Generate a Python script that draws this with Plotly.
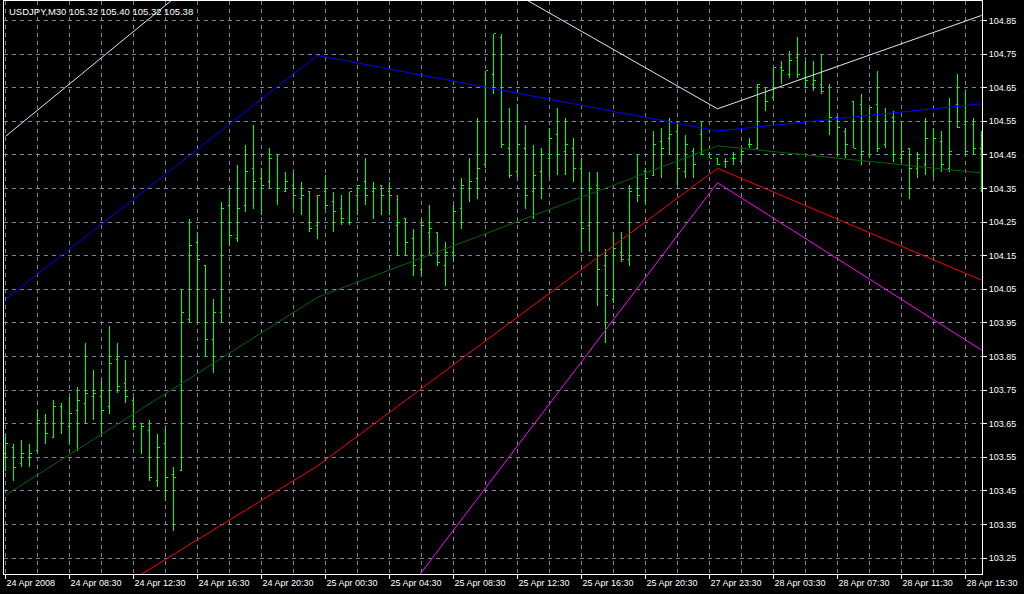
import plotly.graph_objects as go

# ---------------- data ----------------
opens = [103.56, 103.58, 103.53, 103.55, 103.57, 103.65, 103.61, 103.70, 103.64, 103.69,
         103.71, 103.73, 103.73, 103.70, 103.84, 103.77, 103.72, 103.65, 103.63, 103.48,
         103.59, 103.50, 103.51, 103.96, 104.19, 104.12, 103.90, 103.98, 104.30, 104.20,
         104.30, 104.41, 104.38, 104.37, 104.45, 104.34, 104.36, 104.32, 104.34, 104.24,
         104.34, 104.31, 104.29, 104.25, 104.33, 104.37, 104.34, 104.36, 104.34, 104.24,
         104.26, 104.20, 104.11, 104.22, 104.22, 104.12, 104.16, 104.29, 104.35, 104.38,
         104.42, 104.69, 104.80, 104.47, 104.40, 104.47, 104.34, 104.40, 104.44, 104.51,
         104.46, 104.47, 104.41, 104.24, 104.36, 104.12, 104.02, 104.16, 104.14, 104.35,
         104.40, 104.39, 104.49, 104.50, 104.52, 104.40, 104.46, 104.51, 104.45, 104.44,
         104.43, 104.44, 104.43, 104.48, 104.47, 104.65, 104.62, 104.71, 104.69, 104.74,
         104.68, 104.66, 104.66, 104.65, 104.56, 104.52, 104.61, 104.60, 104.45, 104.60,
         104.48, 104.56, 104.44, 104.47, 104.41, 104.42, 104.45, 104.49, 104.41, 104.60,
         104.54, 104.54, 104.47]
highs = [103.62, 103.59, 103.60, 103.59, 103.69, 103.68, 103.72, 103.71, 103.73, 103.76,
         103.89, 103.81, 103.78, 103.94, 103.89, 103.84, 103.73, 103.65, 103.66, 103.62,
         103.64, 103.52, 104.05, 104.26, 104.22, 104.12, 104.02, 104.31, 104.35, 104.42,
         104.48, 104.54, 104.41, 104.47, 104.45, 104.40, 104.40, 104.37, 104.34, 104.33,
         104.39, 104.34, 104.33, 104.34, 104.36, 104.44, 104.37, 104.36, 104.37, 104.33,
         104.26, 104.23, 104.26, 104.30, 104.22, 104.19, 104.30, 104.38, 104.44, 104.56,
         104.70, 104.81, 104.81, 104.59, 104.60, 104.54, 104.48, 104.47, 104.53, 104.59,
         104.56, 104.50, 104.44, 104.40, 104.40, 104.17, 104.22, 104.22, 104.36, 104.45,
         104.41, 104.52, 104.53, 104.56, 104.55, 104.51, 104.47, 104.55, 104.46, 104.44,
         104.44, 104.46, 104.47, 104.50, 104.66, 104.65, 104.71, 104.73, 104.76, 104.80,
         104.73, 104.73, 104.75, 104.66, 104.56, 104.53, 104.61, 104.63, 104.59, 104.70,
         104.59, 104.58, 104.55, 104.47, 104.46, 104.56, 104.53, 104.52, 104.62, 104.69,
         104.64, 104.56, 104.52]
lows = [103.51, 103.48, 103.52, 103.52, 103.56, 103.59, 103.61, 103.62, 103.59, 103.57,
        103.65, 103.66, 103.62, 103.68, 103.74, 103.71, 103.63, 103.56, 103.48, 103.46,
        103.42, 103.33, 103.51, 103.95, 103.95, 103.85, 103.80, 103.95, 104.18, 104.19,
        104.28, 104.29, 104.27, 104.35, 104.30, 104.34, 104.29, 104.27, 104.22, 104.20,
        104.29, 104.22, 104.24, 104.24, 104.27, 104.30, 104.26, 104.27, 104.27, 104.15,
        104.15, 104.09, 104.09, 104.15, 104.12, 104.06, 104.13, 104.23, 104.31, 104.32,
        104.41, 104.63, 104.47, 104.38, 104.38, 104.29, 104.26, 104.32, 104.38, 104.39,
        104.39, 104.37, 104.16, 104.16, 104.00, 103.89, 104.01, 104.13, 104.12, 104.31,
        104.30, 104.39, 104.38, 104.45, 104.36, 104.38, 104.38, 104.45, 104.44, 104.42,
        104.41, 104.42, 104.43, 104.47, 104.47, 104.58, 104.61, 104.66, 104.68, 104.68,
        104.65, 104.64, 104.63, 104.51, 104.45, 104.44, 104.47, 104.42, 104.44, 104.46,
        104.47, 104.43, 104.43, 104.32, 104.38, 104.39, 104.38, 104.40, 104.40, 104.53,
        104.45, 104.45, 104.34]
closes = [103.59, 103.52, 103.56, 103.56, 103.66, 103.62, 103.70, 103.65, 103.68, 103.72,
          103.74, 103.74, 103.69, 103.83, 103.76, 103.73, 103.64, 103.64, 103.49, 103.58,
          103.49, 103.49, 103.98, 104.18, 104.14, 103.90, 103.98, 104.29, 104.21, 104.29,
          104.40, 104.37, 104.36, 104.44, 104.35, 104.37, 104.33, 104.33, 104.23, 104.33,
          104.30, 104.28, 104.26, 104.34, 104.36, 104.33, 104.35, 104.33, 104.33, 104.25,
          104.19, 104.12, 104.24, 104.23, 104.13, 104.16, 104.28, 104.36, 104.37, 104.41,
          104.70, 104.81, 104.48, 104.39, 104.48, 104.33, 104.39, 104.45, 104.50, 104.45,
          104.48, 104.41, 104.23, 104.35, 104.11, 104.03, 104.17, 104.14, 104.34, 104.33,
          104.38, 104.48, 104.47, 104.51, 104.41, 104.48, 104.42, 104.45, 104.44, 104.42,
          104.43, 104.44, 104.46, 104.48, 104.66, 104.61, 104.71, 104.70, 104.73, 104.69,
          104.67, 104.67, 104.64, 104.56, 104.53, 104.48, 104.47, 104.46, 104.59, 104.47,
          104.55, 104.45, 104.46, 104.41, 104.44, 104.50, 104.50, 104.42, 104.46, 104.53,
          104.46, 104.47, 104.40]
bar_index = list(range(len(opens)))

tick_bars = [0, 8, 16, 24, 32, 40, 48, 56, 64, 72, 80, 88, 96, 104, 112, 120]
tick_labels = ["24 Apr 2008", "24 Apr 08:30", "24 Apr 12:30", "24 Apr 16:30",
               "24 Apr 20:30", "25 Apr 00:30", "25 Apr 04:30", "25 Apr 08:30",
               "25 Apr 12:30", "25 Apr 16:30", "25 Apr 20:30", "27 Apr 23:30",
               "28 Apr 03:30", "28 Apr 07:30", "28 Apr 11:30", "28 Apr 15:30"]
minor_bars = [4, 12, 20, 28, 36, 44, 52, 60, 68, 76, 84, 92, 100, 108, 116]
price_ticks = [103.25, 103.35, 103.45, 103.55, 103.65, 103.75, 103.85, 103.95,
               104.05, 104.15, 104.25, 104.35, 104.45, 104.55, 104.65, 104.75, 104.85]

# indicator polylines (vertex bar, vertex price)
white_bars = [0, 39, 89, 122]
white_vals = [104.505, 105.266, 104.587, 104.865]
blue_bars = [0, 39, 89, 122]
blue_vals = [104.020, 104.746, 104.521, 104.602]
green_bars = [0, 39, 89, 122]
green_vals = [103.437, 104.026, 104.477, 104.396]
red_bars = [0, 39, 89, 122]
red_vals = [102.953, 103.524, 104.410, 104.077]
magenta_bars = [39, 89, 122]
magenta_vals = [102.800, 104.367, 103.869]

header = "USDJPY,M30 105.32 105.40 105.32 105.38"

# ---------------- figure ----------------
fig = go.Figure()

fig.add_trace(go.Ohlc(
    x=bar_index, open=opens, high=highs, low=lows, close=closes,
    increasing=dict(line=dict(color="#00ff00", width=1)),
    decreasing=dict(line=dict(color="#00ff00", width=1)),
    tickwidth=0.25, hoverinfo="skip",
))

for xs, ys, col in [(white_bars, white_vals, "#d8ecf4"),
                    (blue_bars, blue_vals, "#0000ff"),
                    (green_bars, green_vals, "#006400"),
                    (red_bars, red_vals, "#ff0000"),
                    (magenta_bars, magenta_vals, "#ff00ff")]:
    fig.add_trace(go.Scatter(x=xs, y=ys, mode="lines",
                             line=dict(color=col, width=1), hoverinfo="skip"))

grid_col = "#778899"
font_fam = "Liberation Sans, Arial, sans-serif"

fig.update_layout(
    width=1024, height=594,
    margin=dict(l=4, r=42, t=1, b=20),
    paper_bgcolor="black", plot_bgcolor="black",
    showlegend=False,
    font=dict(family=font_fam, size=9, color="white"),
    xaxis=dict(
        range=[-0.1875, 122.0625],
        tickmode="array", tickvals=tick_bars, ticktext=tick_labels,
        ticks="outside", ticklen=4, tickcolor="white",
        ticklabelposition="outside right",
        tickfont=dict(family=font_fam, size=9, color="white"),
        showgrid=True, gridcolor=grid_col, gridwidth=1, griddash="4px,4px",
        minor=dict(tickmode="array", tickvals=minor_bars, showgrid=True,
                   gridcolor=grid_col, gridwidth=1, griddash="4px,4px", ticks=""),
        showline=True, linecolor="white", linewidth=1, mirror=True,
        zeroline=False, rangeslider=dict(visible=False), fixedrange=True,
    ),
    yaxis=dict(
        range=[103.2024, 104.908], side="right",
        tickmode="array", tickvals=price_ticks,
        ticktext=[f"{v:.2f}" for v in price_ticks],
        ticks="outside", ticklen=4, tickcolor="white",
        tickfont=dict(family=font_fam, size=9, color="white"),
        showgrid=True, gridcolor=grid_col, gridwidth=1, griddash="4px,4px",
        showline=True, linecolor="white", linewidth=1, mirror=True,
        zeroline=False, fixedrange=True,
    ),
    annotations=[dict(
        text=header, xref="paper", yref="paper", x=0, y=1,
        xanchor="left", yanchor="top", xshift=3, yshift=-3,
        showarrow=False, font=dict(family=font_fam, size=9.5, color="white"),
    )],
)

fig.write_html(
    "out.html",
    config={"displayModeBar": False},
    post_script="document.body.style.margin='0';document.body.style.background='black';"
                "document.querySelectorAll('.ohlc path').forEach(function(p){p.style.shapeRendering='crispEdges';});",
)
